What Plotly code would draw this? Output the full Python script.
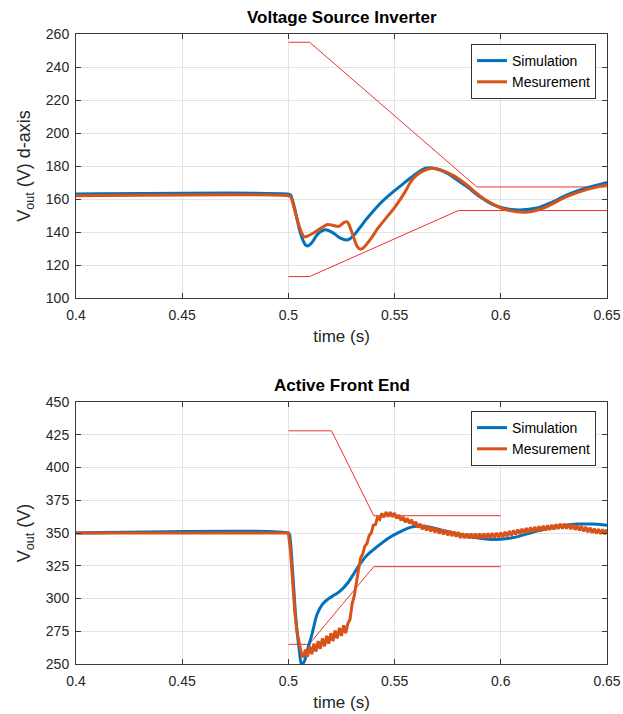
import plotly.graph_objects as go

# ---------------- Data: Voltage Source Inverter (top) ----------------
vsi_sim_t = [0.4, 0.5, 0.501, 0.503, 0.5055, 0.508, 0.5092, 0.511, 0.514, 0.5175, 0.521,
             0.5245, 0.5277, 0.5305, 0.534, 0.5365, 0.5395, 0.5433, 0.549, 0.5543, 0.559,
             0.5645, 0.569, 0.575, 0.58, 0.584, 0.59, 0.595, 0.5997, 0.604, 0.609, 0.617,
             0.624, 0.631, 0.64, 0.65]
vsi_sim_v = [163, 163, 162.5, 154, 140, 132.2, 131.6, 133.5, 139, 141.3, 139.5,
             136.3, 135.2, 137.5, 143.2, 147.5, 152, 157.4, 164, 169.5, 174.3,
             178.6, 178.5, 175.5, 171, 167.5, 161.5, 157.5, 155, 153.8, 153.3, 154.5,
             158, 162.4, 166.5, 170]

vsi_meas_t = [0.4, 0.5, 0.501, 0.503, 0.5055, 0.5073, 0.509, 0.512, 0.5155, 0.5185, 0.521,
              0.5238, 0.5262, 0.5277, 0.529, 0.5308, 0.5325, 0.534, 0.5358, 0.5386, 0.542,
              0.5465, 0.5495, 0.5525, 0.5548, 0.5574, 0.56, 0.5635, 0.5676, 0.572, 0.578,
              0.584, 0.59, 0.596, 0.6025, 0.6122, 0.62, 0.631, 0.64, 0.65]
vsi_meas_v = [162, 162, 161.5, 153, 142, 137.2, 137.5, 139.5, 142.5, 144.5, 144,
              143.4, 145.8, 146.2, 143, 136.5, 131, 129.5, 131, 135.5, 142,
              149.3, 154, 159.5, 164, 170, 174, 177, 178.6, 177.5, 174,
              168.5, 162, 157, 153.5, 152, 154.5, 161.4, 165.5, 168.6]

vsi_upper_t = [0.5, 0.51, 0.5887, 0.65]
vsi_upper_v = [255, 255, 167.3, 167.3]
vsi_lower_t = [0.5, 0.51, 0.58, 0.65]
vsi_lower_v = [113, 113, 153, 153]

# ---------------- Data: Active Front End (bottom) ----------------
afe_sim_t = [0.4, 0.5, 0.5005, 0.502, 0.5035, 0.505, 0.5062, 0.5075, 0.509, 0.511, 0.5135,
             0.516, 0.519, 0.522, 0.5246, 0.528, 0.531, 0.534, 0.5371, 0.541, 0.5465,
             0.552, 0.5574, 0.561, 0.566, 0.5725, 0.58, 0.59, 0.598, 0.606, 0.6184,
             0.628, 0.636, 0.643, 0.65]
afe_sim_v = [350, 350, 349, 320, 285, 262, 249.5, 252, 261, 272, 288,
             295.5, 300, 303, 306, 312, 319.5, 327, 333.2, 338.5, 345.5,
             350.5, 354.3, 355.3, 354.6, 352, 349, 346, 345.1, 346.5, 352,
             355.3, 356.8, 356.8, 356]

afe_meas_flat_t = [0.4, 0.499]
afe_meas_flat_v = [350, 350]
afe_meas_t0 = 0.500   # start of 1 ms-sampled measurement record
afe_meas_dt = 0.001
afe_meas_v = [
    350, 336, 311, 290, 275, 266, 259, 255, 261, 255.5,
    263.5, 257.5, 265.5, 259.5, 267.5, 261.5, 269.5, 263.5, 271.5, 265.5,
    273.5, 267.5, 275.5, 269.5, 277.5, 271.5, 279.5, 273.5, 281, 284,
    296, 302, 313, 322, 331, 334, 340, 342, 348, 350,
    356, 356.5, 362, 360.5, 365, 362, 366, 362.6, 366, 362.2,
    365.3, 361, 363.8, 359.5, 362.3, 358.2, 361.3, 357.2, 360.1, 355.7,
    358.5, 354.2, 357.1, 352.9, 356, 352, 355.2, 351.2, 354.4, 350.4,
    353.6, 349.6, 352.8, 348.9, 352.2, 348.3, 351.6, 347.7, 351, 347.2,
    350.6, 346.2, 349.7, 346, 349.6, 345.9, 349.5, 345.9, 349.5, 345.9,
    349.5, 345.9, 349.6, 346, 349.7, 346.2, 349.9, 346.4, 350.1, 346.6,
    350.3, 346.9, 350.8, 347.5, 351.4, 348.1, 352, 348.7, 352.6, 349.3,
    353.2, 349.9, 353.8, 350.4, 354.2, 350.8, 354.6, 351.2, 355, 351.6,
    355.4, 352, 355.8, 352.4, 356.2, 352.8, 356.6, 353.2, 356.9, 353.4,
    357, 353.3, 356.8, 353, 356.4, 352.5, 355.8, 351.9, 355.2, 351.3,
    354.6, 350.7, 354, 350.1, 353.4, 349.6, 353, 349.3, 352.8, 349.2,
    352.8,
]
afe_meas_t = afe_meas_flat_t + [round(afe_meas_t0 + i * afe_meas_dt, 3) for i in range(len(afe_meas_v))]
afe_meas_all_v = afe_meas_flat_v + afe_meas_v

afe_upper_t = [0.5, 0.5203, 0.5402, 0.6]
afe_upper_v = [428, 428, 363.2, 363.2]
afe_lower_t = [0.5, 0.5097, 0.5402, 0.6]
afe_lower_v = [265, 265, 324.3, 324.3]

x_ticks = [0.4, 0.45, 0.5, 0.55, 0.6, 0.65]
x_tick_labels = ["0.4", "0.45", "0.5", "0.55", "0.6", "0.65"]
vsi_y_ticks = [100, 120, 140, 160, 180, 200, 220, 240, 260]
afe_y_ticks = [250, 275, 300, 325, 350, 375, 400, 425, 450]

# ---------------- Styling ----------------
BLUE = "#0072BD"
ORANGE = "#D95319"
RED = "rgb(235,50,50)"
AX = "#3a3a3a"
GRID = "#e3e3e3"
FONT = "Liberation Sans, Arial, sans-serif"

fig = go.Figure()

# Top
fig.add_trace(go.Scatter(x=vsi_upper_t, y=vsi_upper_v, mode="lines", line=dict(color=RED, width=1),
                         showlegend=False, xaxis="x", yaxis="y"))
fig.add_trace(go.Scatter(x=vsi_lower_t, y=vsi_lower_v, mode="lines", line=dict(color=RED, width=1),
                         showlegend=False, xaxis="x", yaxis="y"))
fig.add_trace(go.Scatter(x=vsi_sim_t, y=vsi_sim_v, mode="lines", name="Simulation",
                         line=dict(color=BLUE, width=3, shape="spline", smoothing=0.8),
                         xaxis="x", yaxis="y", legend="legend"))
fig.add_trace(go.Scatter(x=vsi_meas_t, y=vsi_meas_v, mode="lines", name="Mesurement",
                         line=dict(color=ORANGE, width=3, shape="spline", smoothing=0.8),
                         xaxis="x", yaxis="y", legend="legend"))

# Bottom
fig.add_trace(go.Scatter(x=afe_upper_t, y=afe_upper_v, mode="lines", line=dict(color=RED, width=1),
                         showlegend=False, xaxis="x2", yaxis="y2"))
fig.add_trace(go.Scatter(x=afe_lower_t, y=afe_lower_v, mode="lines", line=dict(color=RED, width=1),
                         showlegend=False, xaxis="x2", yaxis="y2"))
fig.add_trace(go.Scatter(x=afe_sim_t, y=afe_sim_v, mode="lines", name="Simulation",
                         line=dict(color=BLUE, width=3, shape="spline", smoothing=0.8),
                         xaxis="x2", yaxis="y2", legend="legend2"))
fig.add_trace(go.Scatter(x=afe_meas_t, y=afe_meas_all_v, mode="lines", name="Mesurement",
                         line=dict(color=ORANGE, width=3),
                         xaxis="x2", yaxis="y2", legend="legend2"))

axis_common = dict(
    showline=True, linecolor=AX, linewidth=1, mirror="ticks",
    ticks="inside", ticklen=5, tickcolor=AX,
    showgrid=True, gridcolor=GRID, gridwidth=1, zeroline=False,
    tickfont=dict(family=FONT, size=14, color="#262626"),
    automargin=False,
)

top_dom = [(664 - 298) / 630, 1.0]
bot_dom = [0.0, (664 - 402) / 630]

xt = dict(text="time (s)", font=dict(size=17, color="#262626"), standoff=8)

fig.update_layout(
    width=623, height=714,
    margin=dict(l=76, r=16, t=34, b=50),
    paper_bgcolor="white", plot_bgcolor="white",
    font=dict(family=FONT, color="#262626"),
    xaxis=dict(axis_common, domain=[0, 1], anchor="y", range=[0.4, 0.65],
               tickvals=x_ticks, ticktext=x_tick_labels, ticklabelstandoff=4, title=xt),
    yaxis=dict(axis_common, domain=top_dom, anchor="x", range=[100, 260],
               tickvals=vsi_y_ticks, ticklabelstandoff=3,
               title=dict(text="V<sub>out</sub> (V) d-axis", font=dict(size=18, color="#262626"), standoff=10)),
    xaxis2=dict(axis_common, domain=[0, 1], anchor="y2", range=[0.4, 0.65],
                tickvals=x_ticks, ticktext=x_tick_labels, ticklabelstandoff=4, title=xt),
    yaxis2=dict(axis_common, domain=bot_dom, anchor="x2", range=[250, 450],
                tickvals=afe_y_ticks, ticklabelstandoff=3,
                title=dict(text="V<sub>out</sub> (V)", font=dict(size=18, color="#262626"), standoff=10)),
    legend=dict(x=(596 - 76) / 531, y=(664 - 44) / 630, xanchor="right", yanchor="top",
                bgcolor="white", bordercolor="#333333", borderwidth=1,
                font=dict(family=FONT, size=14, color="black"), tracegroupgap=0),
    legend2=dict(x=(596 - 76) / 531, y=(664 - 411) / 630, xanchor="right", yanchor="top",
                 bgcolor="white", bordercolor="#333333", borderwidth=1,
                 font=dict(family=FONT, size=14, color="black"), tracegroupgap=0),
    annotations=[
        dict(text="<b>Voltage Source Inverter</b>", x=0.5, y=(664 - 17) / 630, xref="paper", yref="paper",
             showarrow=False, xanchor="center", yanchor="middle",
             font=dict(family=FONT, size=17, color="black")),
        dict(text="<b>Active Front End</b>", x=0.5, y=(664 - 385) / 630, xref="paper", yref="paper",
             showarrow=False, xanchor="center", yanchor="middle",
             font=dict(family=FONT, size=17, color="black")),
    ],
)

fig.write_html("out.html")
